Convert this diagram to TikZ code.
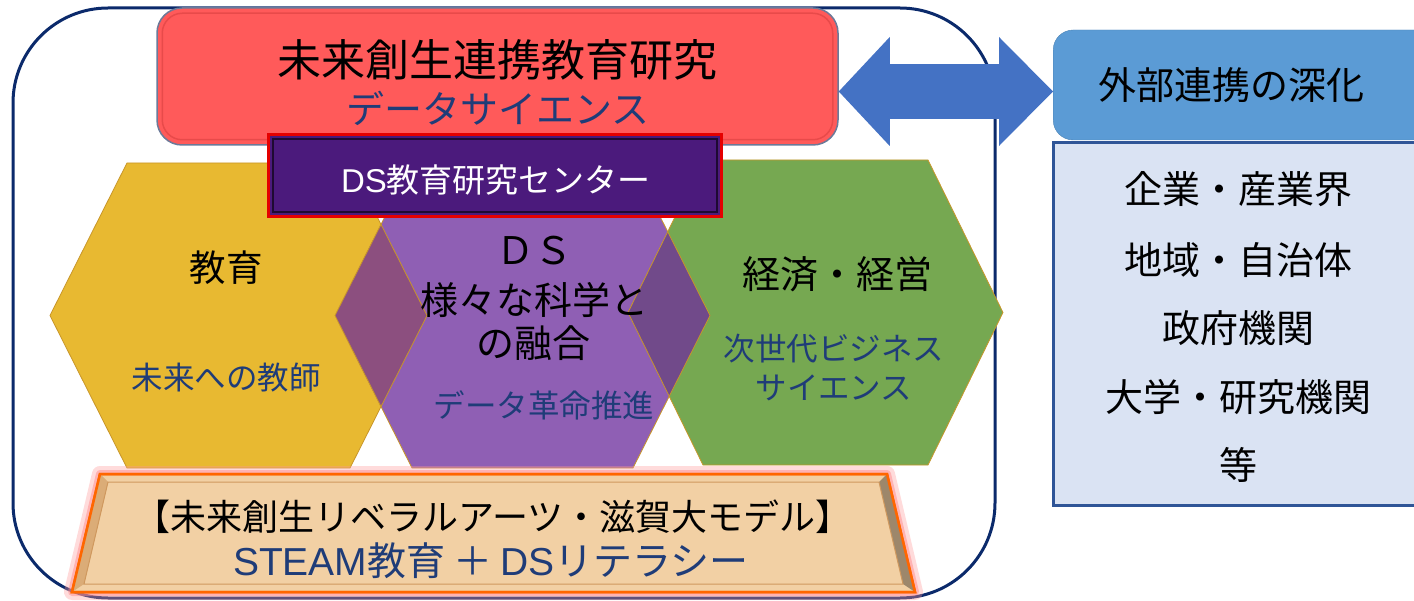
\documentclass[tikz,border=0pt]{standalone}
\usepackage{fontspec}
\setmainfont{Noto Sans CJK JP}
\newfontfamily\latinsk{Liberation Sans}
\usetikzlibrary{arrows.meta,calc,positioning}
\definecolor{ramme}{HTML}{0B2A6B}
\definecolor{rod}{HTML}{FF5A5A}
\definecolor{rodkant}{HTML}{E84A4A}
\definecolor{graablaa}{HTML}{6B7A99}
\definecolor{lilla}{HTML}{4B1A7C}
\definecolor{gul}{HTML}{E8B931}
\definecolor{violet}{HTML}{8F5FB4}
\definecolor{gron}{HTML}{76A851}
\definecolor{gulviolet}{HTML}{8C4F7F}
\definecolor{gronviolet}{HTML}{714A8A}
\definecolor{hexkant}{HTML}{C8962A}
\definecolor{marine}{HTML}{1F3C78}
\definecolor{pilblaa}{HTML}{4472C4}
\definecolor{himmel}{HTML}{5B9BD5}
\definecolor{lys}{HTML}{DAE3F3}
\definecolor{kant}{HTML}{2F5597}
\definecolor{pergament}{HTML}{F2D0A4}
\tikzset{
    rubrik/.style={
           draw=graablaa, fill=rod,
           line width=1.5pt,
           rounded corners=25pt,
           minimum width=681pt,
           minimum height=137pt,
           inner sep=0pt},
    dsboks/.style={
           draw=red!90!black, fill=lilla,
           line width=3pt,
           minimum width=453pt,
           minimum height=82pt,
           inner sep=0pt,
           text=white},
    hexa/.style={
           draw=hexkant,
           line width=0.8pt},
    etiket/.style={
           inner sep=0pt,
           text=black},
    stor/.style={font=\fontsize{44pt}{50pt}\selectfont},
    mellem/.style={font=\fontsize{38pt}{44pt}\selectfont},
    banner/.style={font=\fontsize{36pt}{42pt}\selectfont},
    lille/.style={font=\fontsize{31.5pt}{36pt}\selectfont},
    pil/.style={
           pilblaa,
           line width=55pt,
           {Triangle[length=51pt,width=109pt,line width=0pt]}-{Triangle[length=54pt,width=109pt,line width=0pt]}}
}

\def\hexgul{(50,315.5) -- (127,163) -- (350,163) -- (427,315.5) -- (350,468) -- (127,468) -- cycle}
\def\hexviolet{(335,315.5) -- (412,163) -- (633,163) -- (710,315.5) -- (633,468) -- (412,468) -- cycle}
\def\hexgron{(628,312.5) -- (703,160) -- (928,160) -- (1003,312.5) -- (928,465) -- (703,465) -- cycle}
\def\bannerbund{(100,474) -- (887,474) -- (915,592) -- (72,592) -- cycle}

\begin{document}
\begin{tikzpicture}[x=1pt, y=-1pt]
        \useasboundingbox (0,0) rectangle (1414,601);
        % frame
        \draw[ramme, line width=3pt, rounded corners=95pt] (13,8) rectangle (995,598);

        % title box
        \node[rubrik] (titel) at (497.5,76.5) {};
        \draw[rodkant, line width=1.5pt, rounded corners=20pt]
            ($(titel.south west)+(6,-6)$) rectangle ($(titel.north east)+(-6,6)$);
        \node[etiket, stor] (titeltekst) at (497.5,60) {未来創生連携教育研究};
        \node[etiket, mellem, text=marine] (undertitel) at (498,108) {データサイエンス};

        % hexagons
        \fill[gul] \hexgul;
        \fill[gron] \hexgron;
        \fill[violet] \hexviolet;
        \begin{scope}
            \clip \hexgul;
            \fill[gulviolet] \hexviolet;
        \end{scope}
        \begin{scope}
            \clip \hexgron;
            \fill[gronviolet] \hexviolet;
        \end{scope}
        \draw[hexa] \hexgul;
        \draw[hexa] \hexgron;
        \draw[hexa] \hexviolet;

        \node[etiket, font=\fontsize{36.5pt}{42pt}\selectfont] (udd) at (226,268) {教育};
        \node[etiket, lille, text=marine] (uddsub) at (226,378) {未来への教師};
        \node[etiket, mellem] (ds) at (534,251) {ＤＳ};
        \node[etiket, mellem] (ds2) at (534,300) {様々な科学と};
        \node[etiket, mellem] (ds3) at (533,343) {の融合};
        \node[etiket, lille, text=marine] (dssub) at (544,405) {データ革命推進};
        \node[etiket, mellem] (oko) at (837,274) {経済・経営};
        \node[etiket, lille, text=marine] (okosub) at (834,349) {次世代ビジネス};
        \node[etiket, lille, text=marine] (okosub2) at (834,388) {サイエンス};

        % DS centre
        \node[dsboks] (dsc) at (495,175.5) {};
        \draw[black!60!lilla, line width=1.5pt]
            ($(dsc.south west)+(6,-6)$) rectangle ($(dsc.north east)+(-6,6)$);
        \node[etiket, text=white, font=\fontsize{33pt}{38pt}\selectfont] (dsctekst) at (496,180) {{\latinsk DS}教育研究センター};

        % model banner
        \draw[red!40, opacity=0.35, line width=16pt, line join=round] \bannerbund;
        \draw[red!45, opacity=0.5, line width=8pt, line join=round] \bannerbund;
        \filldraw[fill=pergament, draw=orange!80!red, line width=2.5pt] \bannerbund;
        \fill[brown!45!pergament] (100,474) -- (108,482) -- (84,584) -- (72,592) -- cycle;
        \fill[black!35!pergament] (887,474) -- (879,482) -- (903,584) -- (915,592) -- cycle;
        \draw[brown!70!pergament, line width=1pt] (108,482) -- (879,482) -- (903,584) -- (84,584) -- cycle;
        \draw[orange!80!red, line width=2.5pt] \bannerbund;
        \node[etiket, banner] (model) at (493,517) {【未来創生リベラルアーツ・滋賀大モデル】};
        \node[etiket, text=marine, font=\fontsize{39pt}{44pt}\selectfont] (steam) at (491,561)
            {{\latinsk STEAM}教育\hspace{8pt}＋\hspace{8pt}{\latinsk DS}リテラシー};

        % partners
        \draw[kant, fill=lys, line width=3pt] (1053,143) rectangle (1440,505);
        \node[draw=himmel!85!black, fill=himmel, rounded corners=20pt,
              minimum width=390pt, minimum height=110pt, anchor=west] (ekstern) at (1053,85) {};
        \node[etiket, mellem] (eksterntekst) at (1231,85) {外部連携の深化};
        \node[etiket, mellem] (p1) at (1238,189) {企業・産業界};
        \node[etiket, mellem] (p2) at (1238,260) {地域・自治体};
        \node[etiket, mellem] (p3) at (1238,328) {政府機関};
        \node[etiket, mellem] (p4) at (1238,397) {大学・研究機関};
        \node[etiket, mellem] (p5) at (1238,465) {等};

        \coordinate (pilniveau) at (0,91.5);
        \draw[pil] (titel.east |- pilniveau) -- (ekstern.west |- pilniveau);
    \end{tikzpicture}
\end{document}
